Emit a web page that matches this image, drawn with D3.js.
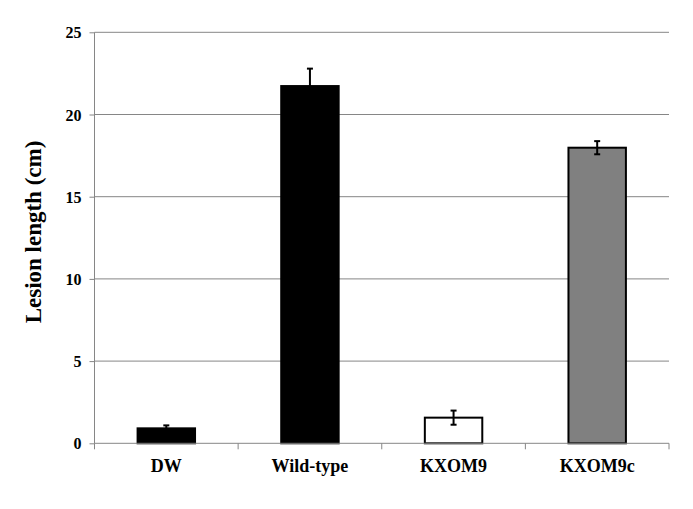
<!DOCTYPE html>
<html>
<head>
<meta charset="utf-8">
<script src="https://cdn.jsdelivr.net/npm/d3@7"></script>
<style>
  html, body { margin: 0; padding: 0; background: #fff; }
  svg { display: block; }
  text { font-family: "Liberation Serif", "Times New Roman", serif; font-weight: bold; fill: #000; }
</style>
</head>
<body>
<svg id="chart" width="693" height="509"></svg>
<script>
const categories = ["DW", "Wild-type", "KXOM9", "KXOM9c"];
const values = [0.91, 21.73, 1.56, 17.98];
const errors = [0.18, 1.06, 0.43, 0.40];
const fills = ["#000000", "#000000", "#ffffff", "#808080"];
const yTicks = [0, 5, 10, 15, 20, 25];
const yTitle = "Lesion length (cm)";

const svg = d3.select("#chart");
const pLeft = 94.5, pRight = 669, pTop = 32.3, pBottom = 443.3;

const x = d3.scaleBand().domain(categories).range([pLeft, pRight]).paddingInner(0.6).paddingOuter(0.3);
const y = d3.scaleLinear().domain([0, 25]).range([pBottom, pTop]);

// gridlines
svg.append("g").selectAll("line").data(yTicks.filter(d => d > 0)).join("line")
  .attr("x1", pLeft).attr("x2", pRight)
  .attr("y1", d => y(d)).attr("y2", d => y(d))
  .attr("stroke", "#868686").attr("stroke-width", 1);

// y axis
const yAxis = d3.axisLeft(y).tickValues(yTicks).tickSize(5).tickPadding(8).tickFormat(d3.format("d"));
const gy = svg.append("g").attr("transform", `translate(${pLeft},0)`).call(yAxis);
gy.select(".domain").attr("stroke", "#868686").attr("d", `M0,${pTop}V${pBottom}`);
gy.selectAll(".tick line").attr("stroke", "#868686");
gy.selectAll(".tick text").style("font-size", "16px").style("font-family", "'Liberation Serif', serif").style("font-weight", "bold").attr("dy", "0.35em");

// bars
svg.append("g").selectAll("rect").data(categories).join("rect")
  .attr("x", d => x(d))
  .attr("y", (d, i) => y(values[i]))
  .attr("width", x.bandwidth())
  .attr("height", (d, i) => y(0) - y(values[i]))
  .attr("fill", (d, i) => fills[i])
  .attr("stroke", "#000")
  .attr("stroke-width", 2);

// x axis
const boundaries = d3.range(categories.length + 1).map(i => pLeft + i * x.step());
const gx = svg.append("g");
gx.append("line").attr("x1", pLeft).attr("x2", pRight).attr("y1", pBottom).attr("y2", pBottom)
  .attr("stroke", "#868686").attr("stroke-width", 1);
gx.selectAll("line.tk").data(boundaries).join("line").attr("class", "tk")
  .attr("x1", d => d).attr("x2", d => d).attr("y1", pBottom).attr("y2", pBottom + 6)
  .attr("stroke", "#868686");
gx.selectAll("text").data(categories).join("text")
  .attr("x", d => x(d) + x.bandwidth() / 2)
  .attr("y", 472)
  .attr("text-anchor", "middle")
  .style("font-size", "18px")
  .text(d => d);

// error bars
const eb = svg.append("g").selectAll("g").data(categories).join("g");
const cx = d => x(d) + x.bandwidth() / 2;
eb.append("line")
  .attr("x1", cx).attr("x2", cx)
  .attr("y1", (d, i) => y(values[i] - errors[i])).attr("y2", (d, i) => y(values[i] + errors[i]))
  .attr("stroke", "#000").attr("stroke-width", 2);
eb.append("line")
  .attr("x1", d => cx(d) - 3).attr("x2", d => cx(d) + 3)
  .attr("y1", (d, i) => y(values[i] + errors[i])).attr("y2", (d, i) => y(values[i] + errors[i]))
  .attr("stroke", "#000").attr("stroke-width", 2);
eb.append("line")
  .attr("x1", d => cx(d) - 3).attr("x2", d => cx(d) + 3)
  .attr("y1", (d, i) => y(values[i] - errors[i])).attr("y2", (d, i) => y(values[i] - errors[i]))
  .attr("stroke", "#000").attr("stroke-width", 2);

// y title
svg.append("text")
  .attr("transform", `translate(41,232) rotate(-90)`)
  .attr("text-anchor", "middle")
  .style("font-size", "23px")
  .text(yTitle);
</script>
</body>
</html>
